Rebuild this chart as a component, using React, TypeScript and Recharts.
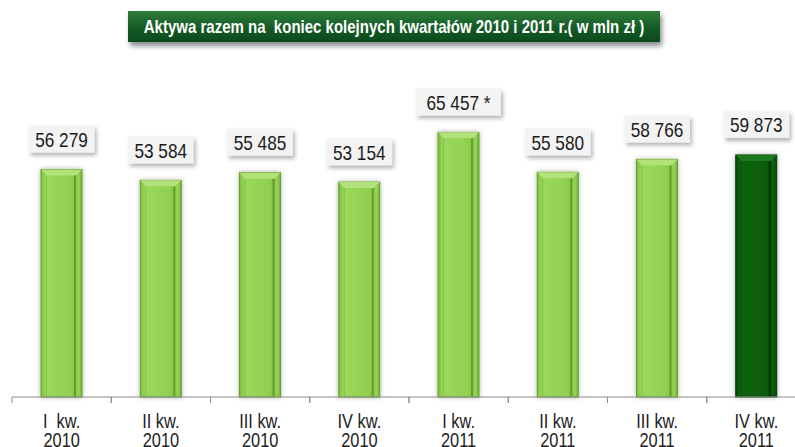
import { BarChart, Bar, XAxis, YAxis, LabelList } from "recharts";

const quarters = ["I  kw.", "II kw.", "III kw.", "IV kw.", "I kw.", "II kw.", "III kw.", "IV kw."];
const years = ["2010", "2010", "2010", "2010", "2011", "2011", "2011", "2011"];
const assets = [56279, 53584, 55485, 53154, 65457, 55580, 58766, 59873];
const valueLabels = ["56 279", "53 584", "55 485", "53 154", "65 457 *", "55 580", "58 766", "59 873"];
const highlighted = [false, false, false, false, false, false, false, true];

const chartData = assets.map((value, i) => ({
    name: `${quarters[i]}|${years[i]}`,
    value,
    label: valueLabels[i],
    highlight: highlighted[i]
}));

// no narrow font installed, so Liberation Sans squeezed horizontally
const FONT = "'Liberation Sans', Arial, sans-serif";
const SQUEEZE = 0.82;

function BevelBar(props: any) {
    const { x, y, width, height, payload } = props;
    const dark = payload?.highlight;
    const bevel = 6;
    const edge = dark ? "#043d06" : "#62a02c";
    const top = dark ? "#1d7a1f" : "#b4e27a";
    const line = dark ? "#032f04" : "#5b9528";
    return (
        <g filter="url(#barShadow)">
            <rect x={x} y={y} width={width} height={height} fill={dark ? "url(#darkBody)" : "url(#lightBody)"} stroke={edge} strokeWidth={1} />
            <polygon
                points={`${x},${y} ${x + width},${y} ${x + width - bevel},${y + bevel} ${x + bevel},${y + bevel}`}
                fill={top}
            />
            <rect x={x + width - bevel - 2} y={y + bevel} width={2} height={height - bevel} fill={line} opacity={0.8} />
            <rect x={x + bevel - 1} y={y + bevel} width={1} height={height - bevel} fill={line} opacity={0.35} />
        </g>
    );
}

function ValueLabel(props: any) {
    const { x, y, width, value } = props;
    const cx = x + width / 2;
    const cy = y - 30;
    const w = String(value).length * 9.6 + 8;
    return (
        <g>
            <rect x={cx - w / 2} y={cy - 14} width={w} height={27} fill="#f3f3f3" filter="url(#labelShadow)" />
            <text
                transform={`translate(${cx} ${cy + 7.5}) scale(${SQUEEZE} 1)`}
                textAnchor="middle"
                fontFamily={FONT}
                fontSize={21}
                fill="#1a1a1a"
                style={{ whiteSpace: "pre" }}
            >
                {value}
            </text>
        </g>
    );
}

function QuarterTick(props: any) {
    const { x, y, payload } = props;
    const half = payload?.offset || 49.6;
    const [q, yr] = String(payload.value).split("|");
    return (
        <g>
            <line x1={x - half} y1={y} x2={x - half} y2={y + 6} stroke="#8c8c8c" />
            <line x1={x + half} y1={y} x2={x + half} y2={y + 6} stroke="#8c8c8c" />
            <text
                transform={`translate(${x} ${y + 31}) scale(${SQUEEZE} 1)`}
                textAnchor="middle"
                fontFamily={FONT}
                fontSize={20}
                fill="#222"
                style={{ whiteSpace: "pre" }}
            >
                {q}
            </text>
            <text
                transform={`translate(${x} ${y + 50}) scale(${SQUEEZE} 1)`}
                textAnchor="middle"
                fontFamily={FONT}
                fontSize={20}
                fill="#222"
            >
                {yr}
            </text>
        </g>
    );
}

export default function App() {
    return (
        <div style={{ position: "relative", width: 810, height: 447, background: "#fff" }}>
            <style>{"body{margin:0;overflow:hidden;background:#fff}"}</style>
            <svg width={0} height={0} style={{ position: "absolute" }}>
                <defs>
                    <linearGradient id="lightBody" x1="0" y1="0" x2="1" y2="0">
                        <stop offset="0%" stopColor="#7cbf3c" />
                        <stop offset="12%" stopColor="#9bd85c" />
                        <stop offset="70%" stopColor="#92d050" />
                        <stop offset="85%" stopColor="#86c646" />
                        <stop offset="92%" stopColor="#9ad45a" />
                        <stop offset="100%" stopColor="#6fae34" />
                    </linearGradient>
                    <linearGradient id="darkBody" x1="0" y1="0" x2="1" y2="0">
                        <stop offset="0%" stopColor="#06480a" />
                        <stop offset="12%" stopColor="#0d6410" />
                        <stop offset="70%" stopColor="#0a5c0c" />
                        <stop offset="85%" stopColor="#08500a" />
                        <stop offset="92%" stopColor="#0c600e" />
                        <stop offset="100%" stopColor="#043a06" />
                    </linearGradient>
                    <filter id="barShadow" x="-30%" y="-10%" width="160%" height="120%">
                        <feDropShadow dx="0" dy="0" stdDeviation="2.5" floodColor="#000" floodOpacity="0.3" />
                    </filter>
                    <filter id="labelShadow" x="-20%" y="-30%" width="150%" height="180%">
                        <feDropShadow dx="2" dy="3" stdDeviation="2" floodColor="#000" floodOpacity="0.3" />
                    </filter>
                </defs>
            </svg>
            <div
                style={{
                    position: "absolute",
                    left: 128,
                    top: 11,
                    width: 532,
                    height: 31,
                    background: "linear-gradient(#2f7d3c, #145a25 55%, #0c4a1c)",
                    boxShadow: "2px 4px 5px rgba(0,0,0,0.45)",
                    zIndex: 2
                }}
            >
                <span
                    style={{
                        position: "absolute",
                        left: "50%",
                        top: 0,
                        color: "#fff",
                        fontFamily: FONT,
                        fontWeight: "bold",
                        fontSize: 19,
                        lineHeight: "31px",
                        whiteSpace: "pre",
                        transform: "translateX(-50%) scaleX(0.79)"
                    }}
                >
                    Aktywa razem na  koniec kolejnych kwartałów 2010 i 2011 r.( w mln zł )
                </span>
            </div>
            <BarChart
                width={810}
                height={447}
                data={chartData}
                margin={{ top: 114, right: 4, bottom: 0, left: 12 }}
                barSize={41}
            >
                <XAxis
                    dataKey="name"
                    height={50}
                    tickSize={0}
                    tickMargin={0}
                    tickLine={false}
                    axisLine={{ stroke: "#8c8c8c" }}
                    interval={0}
                    tick={<QuarterTick />}
                />
                <YAxis hide domain={[0, 70000]} />
                <Bar dataKey="value" isAnimationActive={false} shape={<BevelBar />}>
                    <LabelList dataKey="label" content={<ValueLabel />} />
                </Bar>
            </BarChart>
        </div>
    );
}
